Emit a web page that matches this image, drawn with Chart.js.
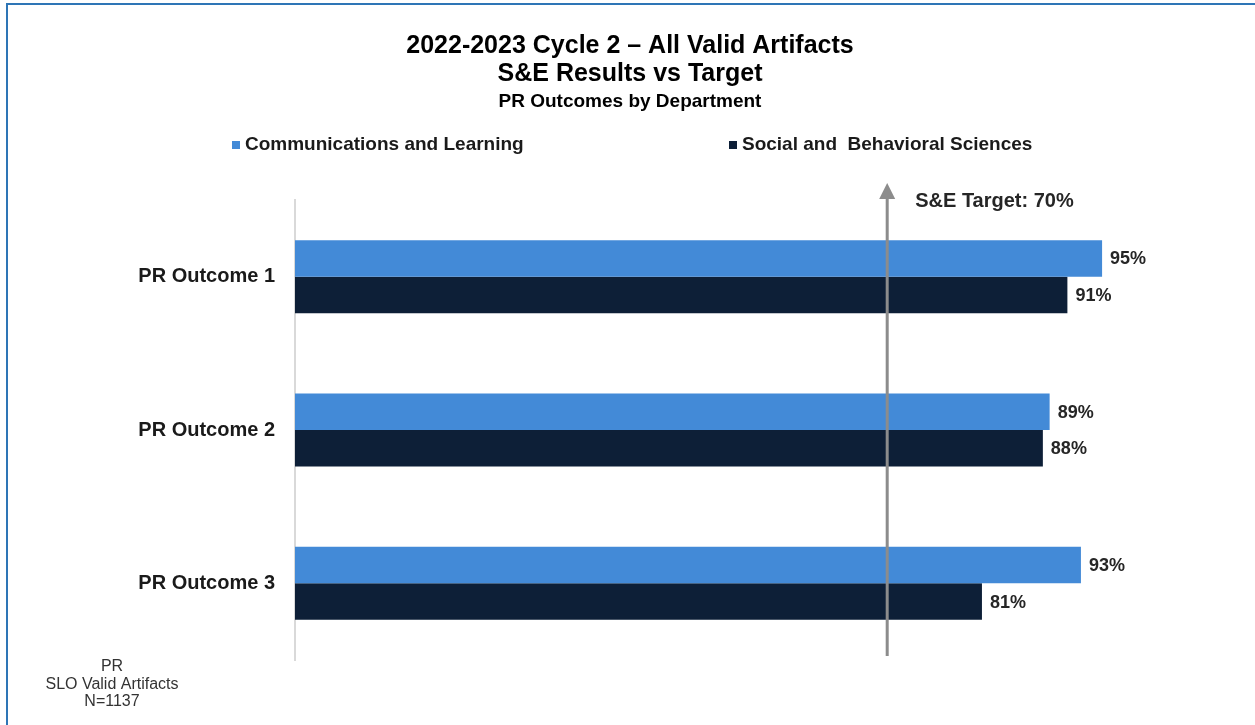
<!DOCTYPE html>
<html>
<head>
<meta charset="utf-8">
<script src="https://cdn.jsdelivr.net/npm/chart.js@4.4.1/dist/chart.umd.min.js"></script>
<style>
  html, body { margin: 0; padding: 0; background: #ffffff; }
  #wrap { position: relative; width: 1255px; height: 725px; }
</style>
</head>
<body>
<div id="wrap"><canvas id="c" width="1255" height="725"></canvas></div>
<script>
// ---- data ----
const titleLines = ['2022-2023 Cycle 2 \u2013 All Valid Artifacts', 'S&E Results vs Target'];
const subtitleText = 'PR Outcomes by Department';
const categories = ['PR Outcome 1', 'PR Outcome 2', 'PR Outcome 3'];
const seriesNames = ['Communications and Learning', 'Social and  Behavioral Sciences'];
const commLearning = [95.4, 89.2, 92.9];
const socialBehavioral = [91.3, 88.4, 81.2];
const targetValue = 70;
const targetLabel = 'S&E Target: 70%';
const footnoteLines = ['PR', 'SLO Valid Artifacts', 'N=1137'];
const xMin = 0;
const xMax = 100;

const FONT = "'Liberation Sans', Arial, sans-serif";
const colors = ['#438AD7', '#0D1F37'];

const framePlugin = {
  id: 'frame',
  beforeDraw(chart) {
    const ctx = chart.ctx;
    ctx.save();
    ctx.fillStyle = '#ffffff';
    ctx.fillRect(0, 0, chart.width, chart.height);
    ctx.fillStyle = '#2E75B6';
    ctx.fillRect(6, 3, chart.width - 6, 2);
    ctx.fillRect(6, 3, 2, chart.height - 3);
    ctx.restore();
  }
};

const legendPlugin = {
  id: 'customLegend',
  afterDraw(chart) {
    const ctx = chart.ctx;
    const boxX = [232, 729];
    const y = 145;
    ctx.save();
    ctx.font = 'bold 19px ' + FONT;
    ctx.textBaseline = 'middle';
    ctx.textAlign = 'left';
    chart.data.datasets.forEach((ds, i) => {
      ctx.fillStyle = ds.backgroundColor;
      ctx.fillRect(boxX[i], y - 4, 8, 8);
      ctx.fillStyle = '#1a1a1a';
      ctx.fillText(ds.label, boxX[i] + 13, y);
    });
    ctx.restore();
  }
};

const targetPlugin = {
  id: 'target',
  afterDatasetsDraw(chart) {
    const ctx = chart.ctx;
    const xs = chart.scales.x;
    const area = chart.chartArea;
    const x = xs.getPixelForValue(targetValue);
    const tipY = 183, baseY = 199, bottomY = area.bottom - 4;
    ctx.save();
    ctx.strokeStyle = '#8C8C8C';
    ctx.lineWidth = 3;
    ctx.beginPath();
    ctx.moveTo(x, bottomY);
    ctx.lineTo(x, baseY);
    ctx.stroke();
    ctx.fillStyle = '#8C8C8C';
    ctx.beginPath();
    ctx.moveTo(x - 8, baseY);
    ctx.lineTo(x + 8, baseY);
    ctx.lineTo(x, tipY);
    ctx.closePath();
    ctx.fill();
    ctx.font = 'bold 20px ' + FONT;
    ctx.fillStyle = '#262626';
    ctx.textAlign = 'left';
    ctx.textBaseline = 'middle';
    ctx.fillText(targetLabel, x + 28, 201);
    ctx.restore();
  }
};

const labelPlugin = {
  id: 'valueLabels',
  afterDatasetsDraw(chart) {
    const ctx = chart.ctx;
    ctx.save();
    ctx.font = 'bold 18px ' + FONT;
    ctx.fillStyle = '#262626';
    ctx.textAlign = 'left';
    ctx.textBaseline = 'middle';
    chart.data.datasets.forEach((ds, di) => {
      const meta = chart.getDatasetMeta(di);
      meta.data.forEach((el, i) => {
        ctx.fillText(Math.round(ds.data[i]) + '%', el.x + 8, el.y + 1);
      });
    });
    ctx.restore();
  }
};

const footnotePlugin = {
  id: 'footnote',
  afterDraw(chart) {
    const ctx = chart.ctx;
    ctx.save();
    ctx.font = '16px ' + FONT;
    ctx.fillStyle = '#333333';
    ctx.textAlign = 'center';
    ctx.textBaseline = 'middle';
    footnoteLines.forEach((t, i) => ctx.fillText(t, 112, 667 + i * 17.5));
    ctx.restore();
  }
};

new Chart(document.getElementById('c'), {
  type: 'bar',
  data: {
    labels: categories,
    datasets: [
      { label: seriesNames[0], data: commLearning, backgroundColor: colors[0] },
      { label: seriesNames[1], data: socialBehavioral, backgroundColor: colors[1] }
    ]
  },
  options: {
    indexAxis: 'y',
    responsive: false,
    animation: false,
    events: [],
    datasets: { bar: { categoryPercentage: 0.476, barPercentage: 1.0 } },
    layout: { padding: { left: 119, right: 114, top: 0, bottom: 65 } },
    scales: {
      x: { min: xMin, max: xMax, display: false },
      y: {
        grid: { display: true, color: 'rgba(0,0,0,0)', drawTicks: false },
        border: { display: true, color: '#D9D9D9', width: 2 },
        ticks: { padding: 20, color: '#1a1a1a', font: { family: FONT, size: 20, weight: 'bold' } },
        afterFit(scale) { scale.width = 176; }
      }
    },
    plugins: {
      legend: { display: false },
      tooltip: { enabled: false },
      title: {
        display: true,
        text: titleLines,
        color: '#000000',
        font: { family: FONT, size: 25, weight: 'bold', lineHeight: 1.12 },
        padding: { top: 32, bottom: 0 }
      },
      subtitle: {
        display: true,
        text: subtitleText,
        color: '#000000',
        font: { family: FONT, size: 19, weight: 'bold', lineHeight: 1.2 },
        padding: { top: 2, bottom: 87.2 }
      }
    }
  },
  plugins: [framePlugin, legendPlugin, targetPlugin, labelPlugin, footnotePlugin]
});
</script>
</body>
</html>
